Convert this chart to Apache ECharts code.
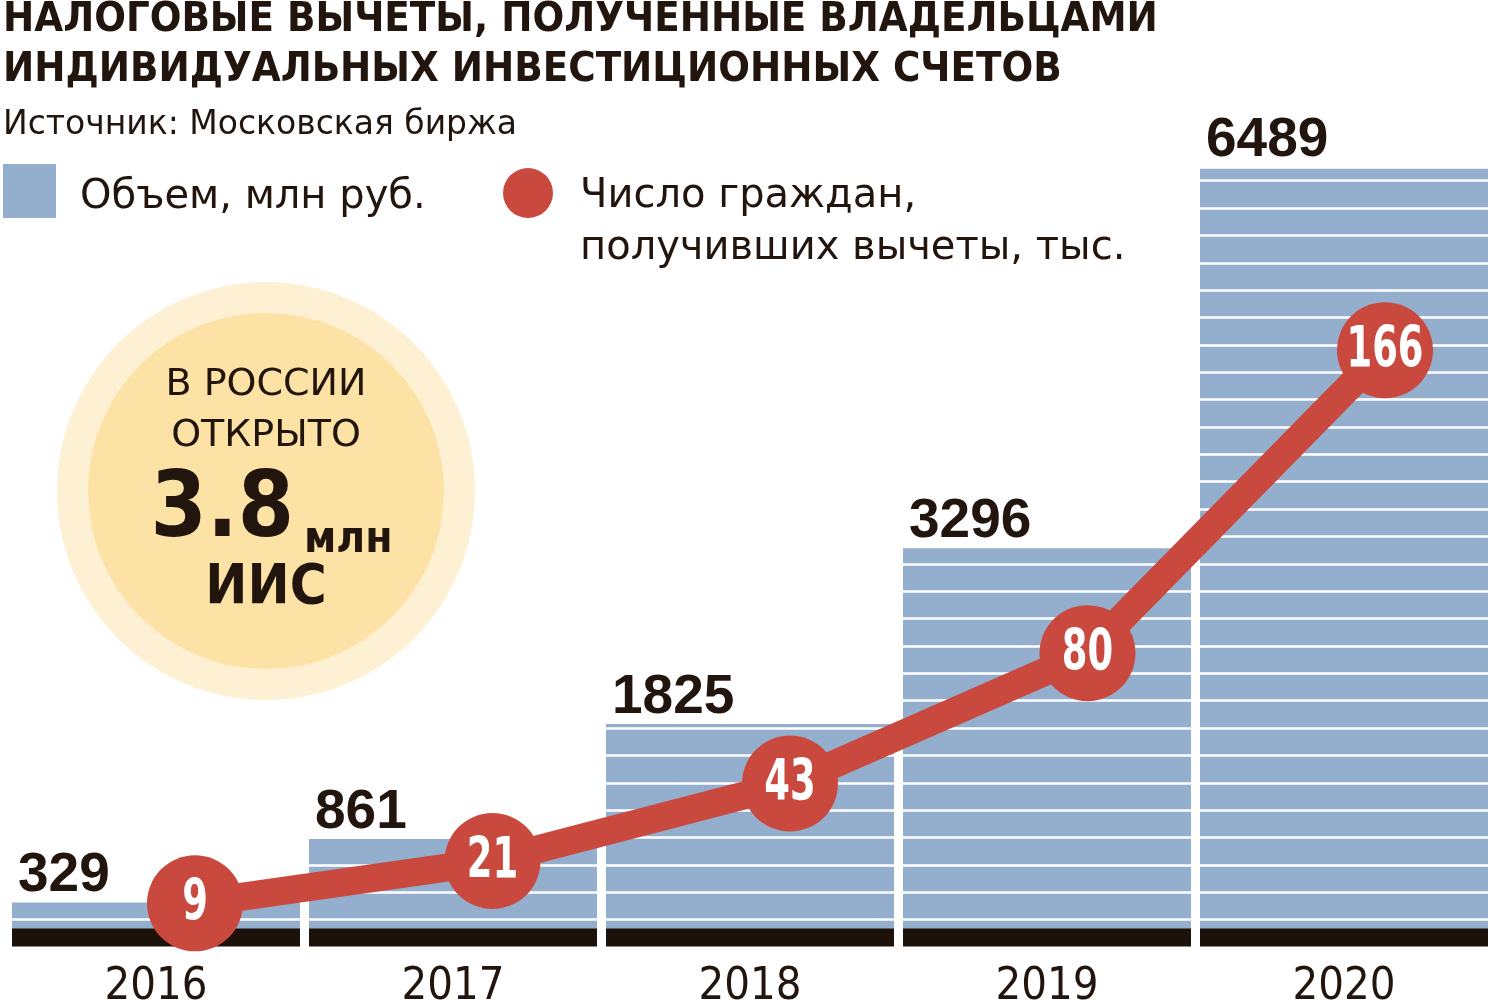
<!DOCTYPE html>
<html>
<head>
<meta charset="utf-8">
<script src="https://cdn.jsdelivr.net/npm/echarts@6/dist/echarts.min.js"></script>
<style>
html, body { margin: 0; padding: 0; background: #fff; }
#chart { width: 1500px; height: 1002px; }
</style>
</head>
<body>
<div id="chart"></div>
<script>
var years = ['2016', '2017', '2018', '2019', '2020'];
var volume = [329, 861, 1825, 3296, 6489];     // Объем, млн руб.
var citizens = [9, 21, 43, 80, 166];           // Число граждан, тыс.

var COND = '"DejaVu Sans Condensed", sans-serif';
var LIGHT = '"DejaVu Sans", sans-serif';
var DARK = '#21150e';
var BLUE = '#94afcd';
var RED = '#c9493e';
var volMin = -43;
var barW = 288;

var chart = echarts.init(document.getElementById('chart'));

var option = {
	backgroundColor: '#fff',
	animation: false,
	title: [{
		text: 'НАЛОГОВЫЕ ВЫЧЕТЫ, ПОЛУЧЕННЫЕ ВЛАДЕЛЬЦАМИ\nИНДИВИДУАЛЬНЫХ ИНВЕСТИЦИОННЫХ СЧЕТОВ',
		left: 3,
		top: -5,
		padding: 0,
		textStyle: { fontSize: 41.5, lineHeight: 50, fontWeight: 'bold', fontFamily: COND, color: DARK }
	}, {
		text: 'Источник: Московская биржа',
		left: 3,
		top: 109,
		padding: 0,
		textStyle: { fontSize: 33, fontWeight: 'normal', fontFamily: LIGHT, color: DARK }
	}],
	grid: [
		{ left: 7.5, width: 1485, top: 167, height: 780, outerBoundsMode: 'none' },
		// the line sits a little to the right of the bar centres
		{ left: 195, width: 1190, top: 167, height: 768, outerBoundsMode: 'none' }
	],
	xAxis: [{
		gridIndex: 0,
		type: 'category',
		data: years,
		axisLine: { show: false, onZero: false },
		axisTick: { show: false },
		splitLine: { show: false },
		axisLabel: { margin: 18, fontSize: 45, fontFamily: COND, color: DARK }
	}, {
		gridIndex: 1,
		type: 'category',
		data: years,
		boundaryGap: false,
		show: false
	}],
	yAxis: [{
		gridIndex: 0,
		type: 'value',
		min: volMin,
		max: 6489,
		show: false
	}, {
		// white stripes across the bars
		gridIndex: 0,
		type: 'value',
		min: 0,
		max: 28.5,
		interval: 1,
		z: 3,
		axisLine: { show: false },
		axisTick: { show: false },
		axisLabel: { show: false },
		splitLine: { show: true, lineStyle: { color: '#fff', width: 2.5 } }
	}, {
		gridIndex: 1,
		type: 'value',
		min: 0,
		max: 218,
		show: false
	}],
	series: [{
		name: 'Объем, млн руб.',
		type: 'bar',
		xAxisIndex: 0,
		yAxisIndex: 0,
		data: volume,
		barWidth: barW,
		z: 2,
		itemStyle: { color: BLUE }
	}, {
		// labels above the bars, drawn over the stripes
		type: 'bar',
		xAxisIndex: 0,
		yAxisIndex: 0,
		data: volume,
		barWidth: barW,
		barGap: '-100%',
		z: 6,
		silent: true,
		itemStyle: { color: 'rgba(0,0,0,0)' },
		label: {
			show: true,
			position: [6, 1],
			align: 'left',
			verticalAlign: 'bottom',
			fontSize: 55,
			lineHeight: 55,
			fontWeight: 'bold',
			fontFamily: '"Liberation Sans", sans-serif',
			color: DARK
		}
	}, {
		// black base under each bar
		type: 'custom',
		xAxisIndex: 0,
		yAxisIndex: 0,
		z: 4,
		silent: true,
		data: years.map(function(y, i) { return [i]; }),
		renderItem: function(params, api) {
			var p = api.coord([api.value(0), volMin]);
			return {
				type: 'rect',
				shape: { x: p[0] - barW / 2, y: p[1] - 18.5, width: barW, height: 18 },
				style: { fill: '#1d120a' }
			};
		}
	}, {
		name: 'Число граждан, получивших вычеты, тыс.',
		type: 'line',
		xAxisIndex: 1,
		yAxisIndex: 2,
		data: citizens,
		z: 5,
		symbol: 'circle',
		symbolSize: 96,
		lineStyle: { color: RED, width: 28 },
		itemStyle: { color: RED }
	}, {
		// narrow white numbers inside the circles
		type: 'custom',
		xAxisIndex: 1,
		yAxisIndex: 2,
		z: 7,
		silent: true,
		data: citizens.map(function(v, i) { return [i, v]; }),
		renderItem: function(params, api) {
			var p = api.coord([api.value(0), api.value(1)]);
			return {
				type: 'text',
				x: p[0],
				y: p[1] + 2,
				scaleX: 0.72,
				style: {
					text: String(api.value(1)),
					font: 'bold 57px ' + COND,
					fill: '#fff',
					align: 'center',
					verticalAlign: 'middle'
				}
			};
		}
	}],
	graphic: [
		// legend
		{ type: 'rect', z: 10, shape: { x: 3, y: 164, width: 53, height: 54 }, style: { fill: BLUE } },
		{ type: 'text', z: 10, style: { x: 80, y: 198, text: 'Объем, млн руб.', font: '40px ' + LIGHT, fill: DARK, verticalAlign: 'middle' } },
		{ type: 'circle', z: 10, shape: { cx: 528, cy: 193, r: 25 }, style: { fill: RED } },
		{ type: 'text', z: 10, style: { x: 580, y: 171, text: 'Число граждан,\nполучивших вычеты, тыс.', font: '40px ' + LIGHT, lineHeight: 52, fill: DARK, verticalAlign: 'top' } },
		// callout circle
		{ type: 'circle', z: 10, shape: { cx: 266, cy: 491, r: 209 }, style: { fill: '#fdf0d3' } },
		{ type: 'circle', z: 11, shape: { cx: 266, cy: 491, r: 178 }, style: { fill: '#fde2a6' } },
		{ type: 'text', z: 12, style: { x: 266, y: 385, text: 'В РОССИИ', font: '38px ' + LIGHT, fill: DARK, align: 'center', verticalAlign: 'middle' } },
		{ type: 'text', z: 12, style: { x: 266, y: 436, text: 'ОТКРЫТО', font: '38px ' + LIGHT, fill: DARK, align: 'center', verticalAlign: 'middle' } },
		{ type: 'text', z: 12, style: { x: 294, y: 513, text: '3.8', font: 'bold 90px ' + COND, fill: DARK, align: 'right', verticalAlign: 'middle' } },
		{ type: 'text', z: 12, style: { x: 304, y: 541, text: 'млн', font: 'bold 44px ' + COND, fill: DARK, align: 'left', verticalAlign: 'middle' } },
		{ type: 'text', z: 12, style: { x: 266, y: 588, text: 'ИИС', font: 'bold 56px ' + COND, fill: DARK, align: 'center', verticalAlign: 'middle' } }
	]
};

chart.setOption(option);
</script>
</body>
</html>
